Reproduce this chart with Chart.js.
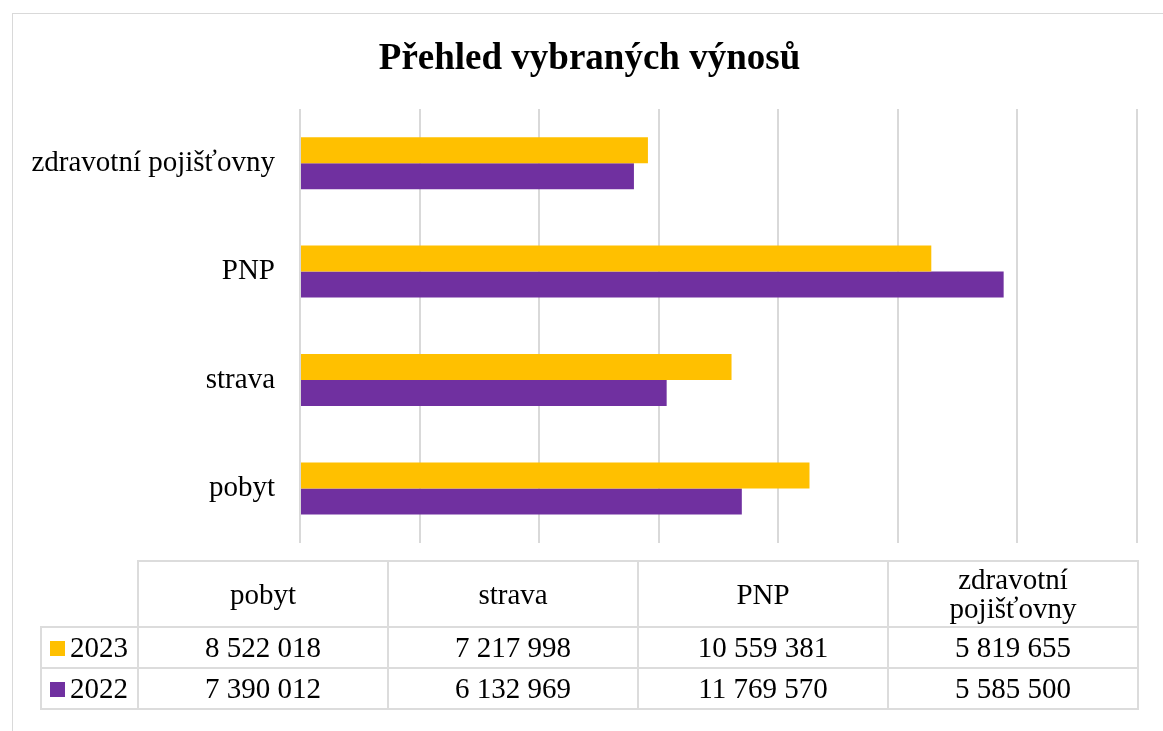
<!DOCTYPE html>
<html>
<head>
<meta charset="utf-8">
<script src="https://cdn.jsdelivr.net/npm/chart.js@4/dist/chart.umd.min.js"></script>
<style>
  html, body { margin: 0; padding: 0; background: #fff; overflow: hidden; }
  body { width: 1163px; height: 731px; position: relative; font-family: "Liberation Serif", "Times New Roman", serif; }
  .frame { position: absolute; left: 12px; top: 13px; width: 1200px; height: 800px; border: 1px solid #d9d9d9; }
  .wrap { position: absolute; left: 0; top: 0; width: 1163px; height: 585px; }
  table.data { position: absolute; left: 40px; top: 560px; border-collapse: collapse; table-layout: fixed; width: 1097px;
    font-family: "Liberation Serif", "Times New Roman", serif; font-size: 29px; color: #000; }
  table.data td { border: 2px solid #dcdcdc; text-align: center; padding: 0; overflow: hidden; }
  table.data tr.head td { height: 64px; line-height: 29px; }
  table.data tr.row td { height: 39px; line-height: 39px; }
  table.data td.corner { border-top: none; border-left: none; }
  table.data td.key { text-align: left; padding-left: 8px; white-space: nowrap; }
  .sw { display: inline-block; width: 15px; height: 15px; margin-right: 5px; vertical-align: 1px; }
</style>
</head>
<body>
<div class="frame"></div>
<div class="wrap"><canvas id="chart"></canvas></div>
<table class="data" id="tbl"></table>
<script>
// data
const titleText = "Přehled vybraných výnosů";
const categories = ["pobyt", "strava", "PNP", "zdravotní pojišťovny"];
const headLabels = ["pobyt", "strava", "PNP", "zdravotní<br>pojišťovny"];
const seriesNames = ["2023", "2022"];
const values2023 = [8522018, 7217998, 10559381, 5819655];
const values2022 = [7390012, 6132969, 11769570, 5585500];
const axisMin = 0;
const axisMax = 14000000;
const axisStep = 2000000;

const colors = ["#FFC000", "#7030A0"];
const fmt = v => String(v).replace(/\B(?=(\d{3})+(?!\d))/g, " ");

// tabulka pod grafem
const tbl = document.getElementById("tbl");
let html = '<colgroup><col style="width:97px">' + headLabels.map(() => '<col style="width:250px">').join("") + "</colgroup>";
html += '<tr class="head"><td class="corner"></td>';
headLabels.forEach(h => { html += "<td>" + h + "</td>"; });
html += "</tr>";
[values2023, values2022].forEach((vals, i) => {
  html += '<tr class="row"><td class="key"><span class="sw" style="background:' + colors[i] + '"></span>' + seriesNames[i] + "</td>";
  vals.forEach(v => { html += "<td>" + fmt(v) + "</td>"; });
  html += "</tr>";
});
tbl.innerHTML = html;

const ctx = document.getElementById("chart").getContext("2d");
new Chart(ctx, {
  type: "bar",
  data: {
    labels: categories,
    datasets: [
      { label: seriesNames[0], data: values2023, backgroundColor: colors[0] },
      { label: seriesNames[1], data: values2022, backgroundColor: colors[1] }
    ]
  },
  options: {
    indexAxis: "y",
    responsive: true,
    maintainAspectRatio: false,
    animation: false,
    categoryPercentage: 0.48,
    barPercentage: 1,
    layout: { padding: { left: 16, right: 0, top: 0, bottom: 15 } },
    plugins: {
      legend: { display: false },
      tooltip: { enabled: false },
      title: {
        display: true,
        text: titleText,
        color: "#000",
        font: { family: "Liberation Serif", size: 37, weight: "bold", lineHeight: 1.2 },
        padding: { top: 37, bottom: 27.6 }
      }
    },
    scales: {
      x: {
        min: axisMin,
        max: axisMax,
        ticks: { display: false, stepSize: axisStep },
        grid: { color: "#d9d9d9", lineWidth: 2, drawTicks: false },
        border: { display: false },
        afterFit: s => { s.height = 0; }
      },
      y: {
        reverse: true,
        grid: { display: false, drawTicks: false },
        border: { display: false },
        ticks: { color: "#000", padding: 25, font: { family: "Liberation Serif", size: 29 } },
        afterFit: s => { s.width = 284; }
      },
      y2: {
        type: "linear",
        position: "right",
        grid: { display: false, drawTicks: false },
        border: { display: false },
        ticks: { display: false },
        afterFit: s => { s.width = 26; }
      }
    }
  }
});
</script>
</body>
</html>
